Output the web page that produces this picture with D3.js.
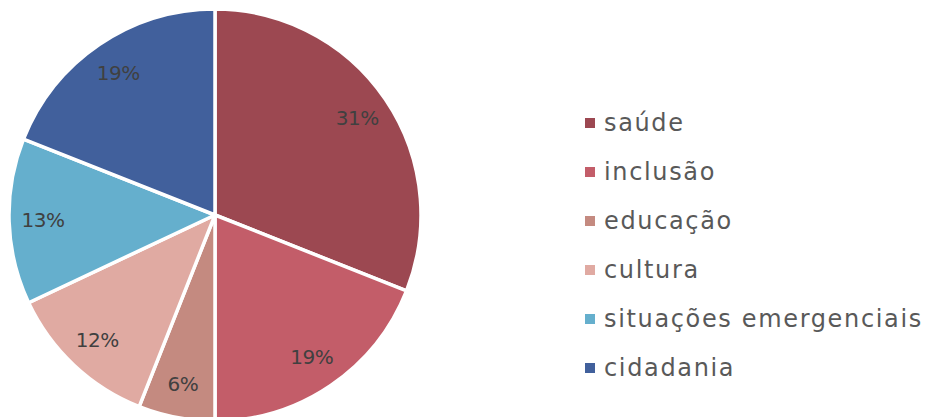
<!DOCTYPE html>
<html><head><meta charset="utf-8">
<script src="https://cdn.jsdelivr.net/npm/d3@7"></script>
<style>body{margin:0;background:#fff}svg{display:block}</style>
</head><body>
<svg id="chart" width="928" height="417"></svg>
<script>
const categories = ["saúde","inclusão","educação","cultura","situações emergenciais","cidadania"];
const values = [31, 19, 6, 12, 13, 19];
const colors = ["#9c4851","#c35d69","#c48a80","#e0aaa2","#65afcd","#41609c"];

const svg = d3.select("#chart");
const cx = 215, cy = 215, R = 206, rLabel = 172;
const data = categories.map((c,i)=>({cat:c, value:values[i], color:colors[i]}));
const pie = d3.pie().value(d=>d.value).sort(null);
const arcs = pie(data);
const arc = d3.arc().innerRadius(0).outerRadius(R);
const labelArc = d3.arc().innerRadius(rLabel).outerRadius(rLabel);
const g = svg.append("g").attr("transform",`translate(${cx},${cy})`);
g.selectAll("path").data(arcs).join("path")
  .attr("d", arc).attr("fill", d=>d.data.color)
  .attr("stroke","#fff").attr("stroke-width",3.5).attr("stroke-linejoin","round");
g.selectAll("text").data(arcs).join("text")
  .attr("transform", d=>`translate(${labelArc.centroid(d)})`)
  .attr("text-anchor","middle").attr("dominant-baseline","central")
  .attr("font-family","'DejaVu Sans', sans-serif").attr("font-size",20)
  .attr("letter-spacing",-0.5)
  .attr("fill","#404040").text(d=>d.data.value+"%");

const leg = svg.append("g");
const y0 = 123, step = 49;
const rows = leg.selectAll("g").data(data).join("g")
  .attr("transform",(d,i)=>`translate(585,${y0+i*step})`);
rows.append("rect").attr("x",0).attr("y",-5).attr("width",10).attr("height",10).attr("fill",d=>d.color);
rows.append("text").attr("x",19).attr("y",0).attr("dominant-baseline","central")
  .attr("font-family","'DejaVu Sans', sans-serif").attr("font-size",24)
  .attr("letter-spacing",1.65)
  .attr("fill","#595959").text(d=>d.cat);
</script>
</body></html>
